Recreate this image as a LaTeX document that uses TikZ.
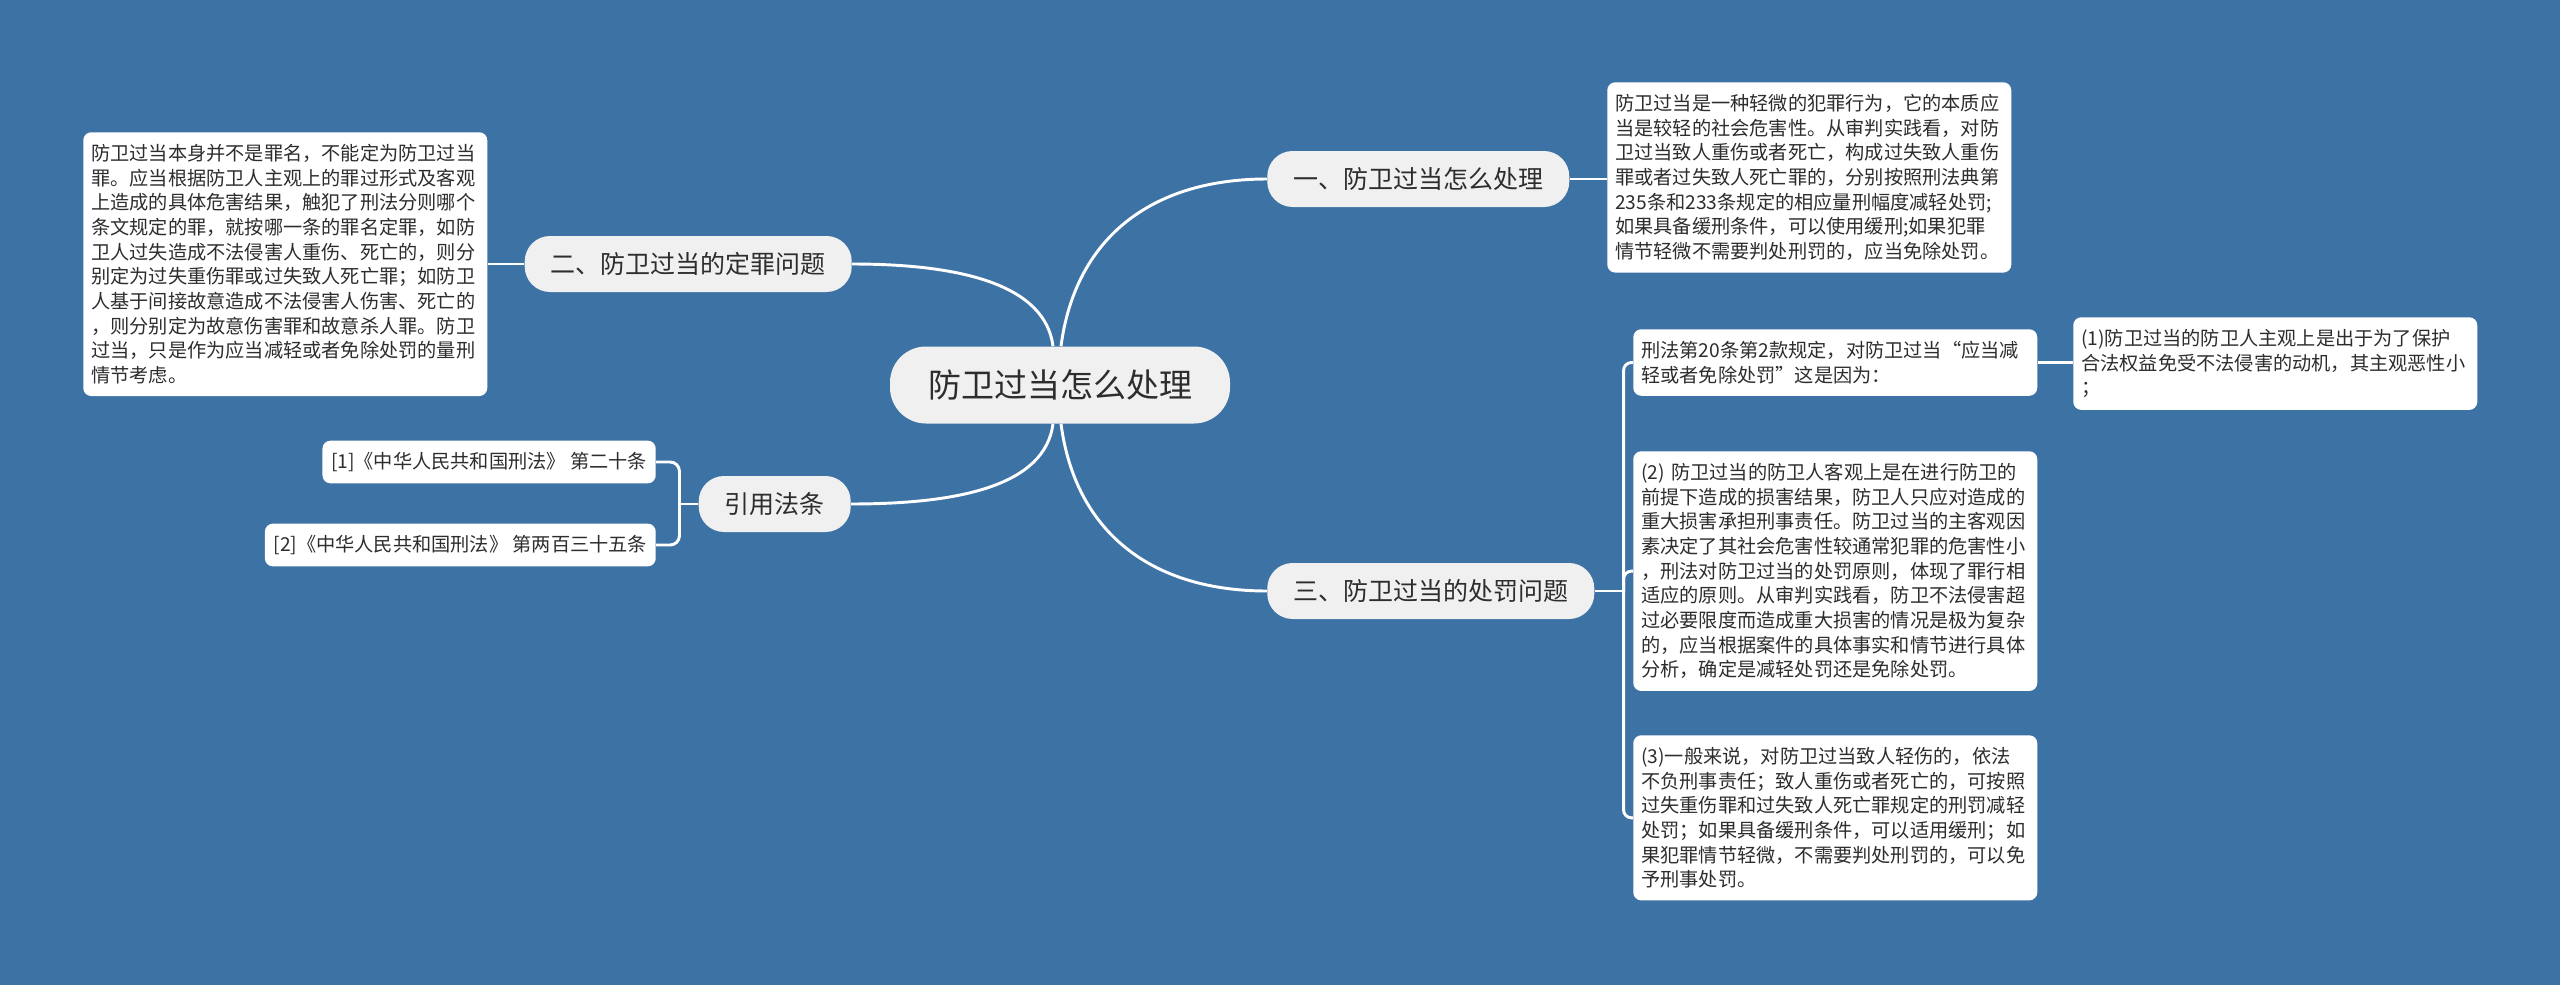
\documentclass[tikz,border=0pt]{standalone}
\usepackage{fontspec}
\setmainfont{Noto Sans CJK SC}
\usetikzlibrary{calc}
\definecolor{bg}{RGB}{61,114,165}
\definecolor{pill}{RGB}{240,240,240}
\definecolor{ink}{RGB}{45,45,45}
\begin{document}
\begin{tikzpicture}[x=0.75pt,y=-0.75pt,
  every node/.style={text=ink, inner sep=0pt},
  link/.style={draw=white, line width=2.2pt},
  rootbox/.style={fill=pill, rounded corners=27pt, minimum width=255pt, minimum height=57.75pt, font=\fontsize{24.75pt}{30pt}\selectfont},
  topicbox/.style={fill=pill, rounded corners=19pt, minimum height=42pt, inner xsep=19.5pt, font=\fontsize{18.75pt}{22pt}\selectfont},
  notebox/.style={fill=white, rounded corners=6pt, text width=291pt, inner xsep=6pt, inner ysep=9pt, align=left, font=\fontsize{14.4pt}{18.5pt}\selectfont},
  refbox/.style={fill=white, rounded corners=6pt, minimum height=32pt, inner xsep=6.5pt, font=\fontsize{14.4pt}{18pt}\selectfont},
]
\fill[bg] (0,0) rectangle (2560,985);
\useasboundingbox (0,0) rectangle (2560,985);

\node[rootbox] (root) at (1060,385) {防卫过当怎么处理};
\node[topicbox, anchor=west] (t1) at (1267,179) {一、防卫过当怎么处理};
\node[topicbox, anchor=east] (t2) at (852,264) {二、防卫过当的定罪问题};
\node[topicbox, anchor=east] (t4) at (851,504) {引用法条};
\node[topicbox, anchor=west] (t3) at (1267,591) {三、防卫过当的处罚问题};

\node[notebox, anchor=north west] (n1) at (1607,82) {防卫过当是一种轻微的犯罪行为，它的本质应\\当是较轻的社会危害性。从审判实践看，对防\\卫过当致人重伤或者死亡，构成过失致人重伤\\罪或者过失致人死亡罪的，分别按照刑法典第\\235条和233条规定的相应量刑幅度减轻处罚;\\如果具备缓刑条件，可以使用缓刑;如果犯罪\\情节轻微不需要判处刑罚的，应当免除处罚。};

\node[notebox, anchor=north west] (n2) at (83,132) {防卫过当本身并不是罪名，不能定为防卫过当\\罪。应当根据防卫人主观上的罪过形式及客观\\上造成的具体危害结果，触犯了刑法分则哪个\\条文规定的罪，就按哪一条的罪名定罪，如防\\卫人过失造成不法侵害人重伤、死亡的，则分\\别定为过失重伤罪或过失致人死亡罪；如防卫\\人基于间接故意造成不法侵害人伤害、死亡的\\，则分别定为故意伤害罪和故意杀人罪。防卫\\过当，只是作为应当减轻或者免除处罚的量刑\\情节考虑。};

\node[refbox, anchor=east] (r1) at (656,462) {[1]《中华人民共和国刑法》 第二十条};
\node[refbox, anchor=east] (r2) at (656,545) {[2]《中华人民共和国刑法》 第两百三十五条};

\node[notebox, anchor=north west] (p0) at (1633,329) {刑法第20条第2款规定，对防卫过当“应当减\\轻或者免除处罚”这是因为：};
\node[notebox, anchor=north west] (p1) at (2073,317) {(1)防卫过当的防卫人主观上是出于为了保护\\合法权益免受不法侵害的动机，其主观恶性小\\；};
\node[notebox, anchor=north west] (p2) at (1633,451) {(2) 防卫过当的防卫人客观上是在进行防卫的\\前提下造成的损害结果，防卫人只应对造成的\\重大损害承担刑事责任。防卫过当的主客观因\\素决定了其社会危害性较通常犯罪的危害性小\\，刑法对防卫过当的处罚原则，体现了罪行相\\适应的原则。从审判实践看，防卫不法侵害超\\过必要限度而造成重大损害的情况是极为复杂\\的，应当根据案件的具体事实和情节进行具体\\分析，确定是减轻处罚还是免除处罚。};
\node[notebox, anchor=north west] (p3) at (1633,735) {(3)一般来说，对防卫过当致人轻伤的，依法\\不负刑事责任；致人重伤或者死亡的，可按照\\过失重伤罪和过失致人死亡罪规定的刑罚减轻\\处罚；如果具备缓刑条件，可以适用缓刑；如\\果犯罪情节轻微，不需要判处刑罚的，可以免\\予刑事处罚。};

% root connectors
\draw[link] ($(root.north)+(1,0)$) .. controls +(14,-107) and +(-117,0) .. (t1.west);
\draw[link] ($(root.north)+(-7,0)$) .. controls +(-8,-62) and +(108,0) .. (t2.east);
\draw[link] ($(root.south)+(-7,0)$) .. controls +(-8,62) and +(108,0) .. (t4.east);
\draw[link] ($(root.south)+(1,0)$) .. controls +(14,107) and +(-117,0) .. (t3.west);

% straight connectors
\draw[link] (t1.east) -- (t1.east -| n1.west);
\draw[link] (t2.west) -- (t2.west -| n2.east);
\draw[link] (p0.east) -- (p0.east -| p1.west);

% references bracket
\coordinate (rj) at ($(t4.west)+(-19,0)$);
\draw[link] (t4.west) -- (rj);
\draw[link, rounded corners=7pt] (r1.east) -| (rj);
\draw[link, rounded corners=7pt] (r2.east) -| (rj);

% punishment bracket
\coordinate (pj) at ($(t3.east)+(29,0)$);
\draw[link] (t3.east) -- (pj);
\draw[link, rounded corners=6pt] (p0.west) -| (pj);
\draw[link, rounded corners=6pt] (p2.west) -| (pj);
\draw[link, rounded corners=6pt] (p3.west) -| (pj);
\end{tikzpicture}
\end{document}
